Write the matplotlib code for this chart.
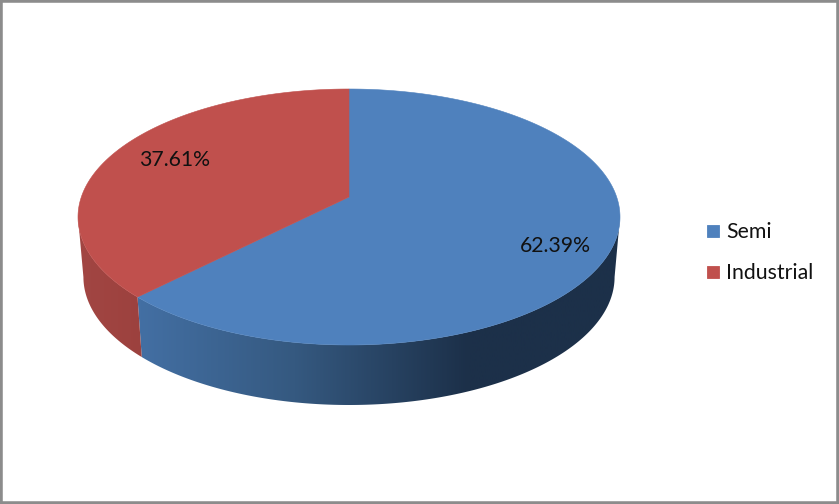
import matplotlib.pyplot as plt
import numpy as np
from matplotlib.colors import LinearSegmentedColormap
from matplotlib.patches import Polygon, Rectangle

labels = ["Semi", "Industrial"]
shares = [62.39, 37.61]
top_colors = ["#4f81bd", "#c0504d"]

plt.rcParams["font.family"] = ["Lato", "DejaVu Sans"]

W, H = 839, 504
cx, cy = 349, 217
rx, ry = 271, 128
apex_up = 20
depth = 60
shrink = 0.98


def project(t, r=1.0):
    # circle -> tilted ellipse, the hub sits above the ellipse centre
    k = 2 * apex_up / (2 * ry)
    x, y = r * np.cos(t), r * np.sin(t)
    den = 1 + k * y
    return rx * np.sqrt(1 - k * k) * x / den, (ry * y + apex_up) / den


fig = plt.figure(figsize=(W / 100, H / 100), dpi=100)
ax = fig.add_axes([0, 0, 1, 1])
ax.set_axis_off()

ax.add_patch(Rectangle((0, 0), W, H, fc="white", ec="#8c8c8c", lw=4, zorder=0))

side_maps = [
    LinearSegmentedColormap.from_list("b", [(0, "#4873a8"), (0.114, "#436fa3"), (0.4, "#355980"), (0.72, "#1c3049"), (1, "#1c3049")]),
    LinearSegmentedColormap.from_list("r", ["#a24643", "#9c413e"]),
]

edges = 90 - 360 * np.cumsum([0] + shares) / 100
wedges = []
for i in range(len(shares)):
    t = np.radians(np.linspace(edges[i], edges[i + 1], 500))
    X, Y = project(t)
    wedges.append((X, Y))

    # side wall: only the part of the rim in front of the ellipse centre
    keep = Y <= 0
    top = np.column_stack([cx + X[keep], cy - Y[keep]])
    bot = np.column_stack([cx + X[keep] * shrink, cy + depth - Y[keep]])
    wall = Polygon(np.vstack([top, bot[::-1]]), closed=True, transform=ax.transData, fc="none", ec="none")
    ax.add_patch(wall)
    grad = np.linspace(0, 1, 256).reshape(1, -1)
    x0, x1 = (cx - rx, cx + rx) if i == 0 else (cx - rx, bot[:, 0].max() + 2)
    im = ax.imshow(grad, cmap=side_maps[i], extent=(x0, x1, H, 0), aspect="auto", vmin=0, vmax=1, zorder=1)
    im.set_clip_path(wall)

for i, (X, Y) in enumerate(wedges):
    ax.fill(
        np.r_[cx, cx + X], np.r_[cy - apex_up, cy - Y],
        fc=top_colors[i], ec=top_colors[i], lw=0.4, zorder=2,
    )

label_pos = [(555, 246), (175, 160)]
for (x, y), s in zip(label_pos, shares):
    ax.text(x, y, f"{s:.2f}%", ha="center", va="center", fontsize=15.3, color="#111111", zorder=3)

legend_y = [231, 272]
for y, name, c in zip(legend_y, labels, top_colors):
    ax.add_patch(Rectangle((707, y - 6), 12, 12, fc=c, ec=c, lw=0.6, zorder=2))
    ax.text(726, y + 1, name, ha="left", va="center", fontsize=15.3, color="#111111", zorder=3)

ax.set_xlim(0, W)
ax.set_ylim(H, 0)
fig.savefig("out.png", dpi=100)
